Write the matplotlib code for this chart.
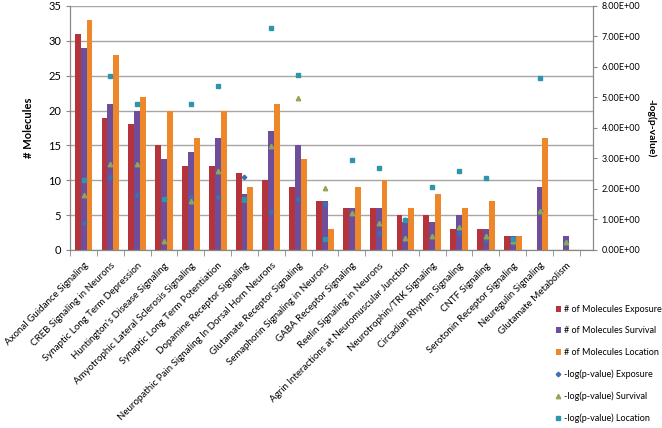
import matplotlib
matplotlib.use("Agg")
import matplotlib.pyplot as plt
import numpy as np

plt.rcParams['font.family'] = ['Lato', 'DejaVu Sans']

pathways = [
    "Axonal Guidance Signaling", "CREB Signaling in Neurons",
    "Synaptic Long Term Depression", "Huntington's Disease Signaling",
    "Amyotrophic Lateral Sclerosis Signaling", "Synaptic Long Term Potentiation",
    "Dopamine Receptor Signaling", "Neuropathic Pain Signaling In Dorsal Horn Neurons",
    "Glutamate Receptor Signaling", "Semaphorin Signaling in Neurons",
    "GABA Receptor Signaling", "Reelin Signaling in Neurons",
    "Agrin Interactions at Neuromuscular Junction", "Neurotrophin/TRK Signaling",
    "Circadian Rhythm Signaling", "CNTF Signaling",
    "Serotonin Receptor Signaling", "Neuregulin Signaling", "Glutamate Metabolism",
]

# number of molecules per pathway
mol_exposure = [31, 19, 18, 15, 12, 12, 11, 10, 9, 7, 6, 6, 5, 5, 3, 3, 2, 0, 0]
mol_survival = [29, 21, 20, 13, 14, 16, 8, 17, 15, 7, 6, 6, 4, 4, 5, 3, 2, 9, 2]
mol_location = [33, 28, 22, 20, 16, 20, 9, 21, 13, 3, 9, 10, 6, 8, 6, 7, 2, 16, 0]

# -log(p-value) per pathway
logp_exposure = [0.90, 2.39, 1.81, 1.67, 1.73, 1.73, 2.39, 1.26, 1.68, 1.50,
                 1.22, 0.56, 0.98, 0.47, 0.55, 0.31, 0.22, 1.29, 0.26]
logp_survival = [1.81, 2.81, 2.81, 0.28, 1.62, 2.58, 1.68, 3.41, 4.98, 2.02,
                 1.22, 0.90, 0.39, 0.47, 0.76, 0.46, 0.30, 1.29, 0.26]
logp_location = [2.29, 5.69, 4.78, 1.67, 4.79, 5.36, 1.68, 7.28, 5.75, 0.36,
                 2.95, 2.68, 0.99, 2.08, 2.59, 2.35, 0.35, 5.63, None]

x = np.arange(len(pathways))
w = 0.22

fig = plt.figure(figsize=(6.62, 4.28), dpi=100)
ax = fig.add_axes([0.106, 0.416, 0.790, 0.570])
ax2 = ax.twinx()

b1 = ax.bar(x - w, mol_exposure, w, color='#B5333A', label='# of Molecules Exposure', zorder=2)
b2 = ax.bar(x, mol_survival, w, color='#6E4D9B', label='# of Molecules Survival', zorder=2)
b3 = ax.bar(x + w, mol_location, w, color='#EE862A', label='# of Molecules Location', zorder=2)

loc = np.array([np.nan if v is None else v for v in logp_location], dtype=float)
s1, = ax2.plot(x, logp_exposure, 'D', ls='none', ms=2.3, color='#3E6FB0', label='-log(p-value) Exposure')
s2, = ax2.plot(x, logp_survival, '^', ls='none', ms=3.2, color='#8FA857', label='-log(p-value) Survival')
s3, = ax2.plot(x, loc, 's', ls='none', ms=3.0, color='#2E95AE', label='-log(p-value) Location')

ax.set_xlim(-0.5, 19.0)
ax.set_ylim(0, 35)
ax.set_yticks(np.arange(0, 36, 5))
ax.yaxis.grid(True, color='#A6A6A6', lw=1.0, zorder=0)
ax.set_axisbelow(True)
ax2.set_ylim(0, 8)
ax2.set_yticks(np.arange(0, 9, 1))
ax2.set_yticklabels([f"{v:.2E}" for v in np.arange(0, 9, 1)])

ax.set_xticks(x)
ax.set_xticklabels(pathways, rotation=45, ha='right', rotation_mode='anchor', fontsize=7)
ax.set_xticks(np.arange(-0.5, 19, 1), minor=True)
ax.tick_params(axis='x', which='major', length=0, pad=8)
ax.tick_params(axis='x', which='minor', length=4, color='#888888')
ax.tick_params(axis='y', labelsize=8, length=3, color='#888888')
ax2.tick_params(axis='y', labelsize=6.5, length=3, color='#888888', pad=3)

for a in (ax, ax2):
    a.spines['top'].set_visible(False)
    for s in ('left', 'right', 'bottom'):
        a.spines[s].set_color('#888888')

ax.set_ylabel('# Molecules', fontsize=8, fontweight='bold', labelpad=10)
ax2.set_ylabel('-log(p-value)', fontsize=7.5, fontweight='bold', rotation=270, labelpad=11)

handles = [b1, b2, b3, s1, s2, s3]
fig.legend(handles, [h.get_label() for h in handles], loc='upper left',
           bbox_to_anchor=(0.834, 0.296), frameon=False, fontsize=6.5,
           handlelength=0.6, handletextpad=0.3, labelspacing=1.38, borderaxespad=0)

fig.savefig('out.png', dpi=100)
